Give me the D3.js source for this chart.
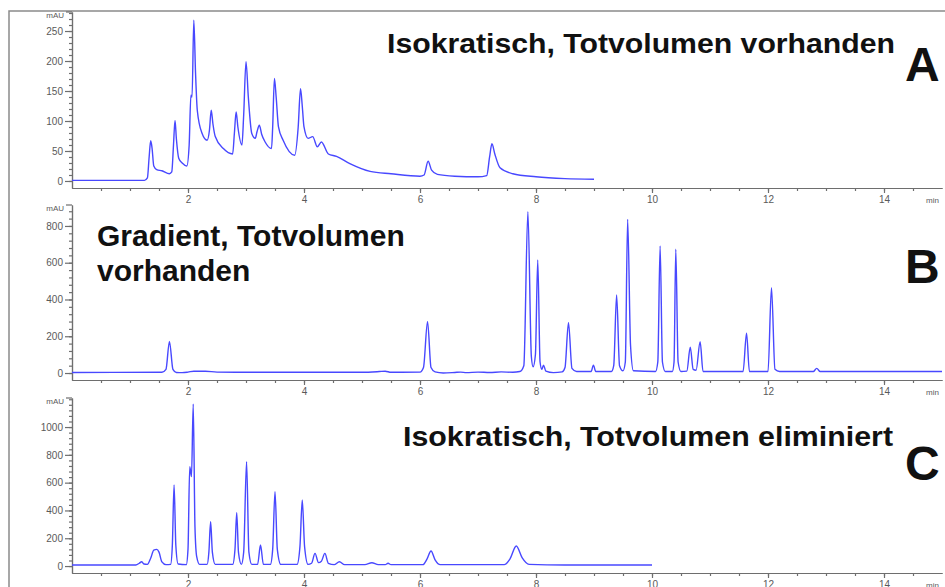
<!DOCTYPE html>
<meta charset="utf-8">
<style>
body { margin: 0; background: #fff; }
svg { display: block; font-family: "Liberation Sans", Arial, sans-serif; }
.axis path, .axis line { stroke: #6e6e6e; stroke-width: 1.2; }
.axis text { fill: #5a5a5a; font-size: 10px; }
.trace { fill: none; stroke: #4848ff; stroke-width: 1.4; stroke-linejoin: round; }
.title { font-weight: bold; fill: #111; }
</style>
<svg width="945" height="587"></svg>
<script src="https://d3js.org/d3.v7.min.js"></script>
<script>
// three chromatograms, time in min, signal in mAU
var traceA = [[0,1],[1.25,1],[1.30,5],[1.33,40],[1.357,67],[1.38,55],[1.41,25],[1.46,19],[1.55,17],[1.68,12],
  [1.72,15],[1.75,60],[1.776,101],[1.80,70],[1.84,38],[1.90,30],[1.98,25],[2.02,60],[2.05,143],[2.07,140],
  [2.10,268],[2.13,180],[2.16,118],[2.24,80],[2.33,68],[2.37,85],[2.40,118],[2.43,95],[2.47,74],[2.61,54],
  [2.77,45],[2.80,80],[2.83,115],[2.86,90],[2.93,60],[2.96,110],[3.00,199],[3.04,140],[3.10,79],[3.16,71],
  [3.19,82],[3.23,93],[3.27,78],[3.33,65],[3.44,54],[3.46,90],[3.49,171],[3.52,140],[3.56,90],[3.64,68],
  [3.84,43],[3.90,90],[3.94,154],[3.97,125],[4.00,90],[4.07,71],[4.15,74],[4.23,57],[4.30,65],[4.42,45],
  [4.56,41],[4.79,29],[5.14,16],[5.5,12],[6.0,8],[6.07,10],[6.14,33],[6.2,18],[6.3,11],[6.6,8],[7.0,7],
  [7.15,9],[7.2,40],[7.24,62],[7.29,45],[7.38,22],[7.6,12],[8.0,7],[8.5,4],[9.0,3]];

var traceB = [[0,3],[1.55,4],[1.62,20],[1.68,172],[1.74,20],[1.80,3],[1.9,2],[2.0,5],[2.1,10],[2.3,10],
  [2.5,5],[3.0,4],[4.0,4],[5.0,4],[5.3,8],[5.4,10],[5.5,4],[6.0,5],[6.06,30],[6.13,279],[6.19,30],[6.26,6],
  [6.4,0],[6.6,3],[6.7,5],[6.8,2],[7.0,5],[7.2,3],[7.4,6],[7.6,4],[7.72,8],[7.79,40],[7.86,878],[7.92,90],
  [7.95,34],[7.99,100],[8.03,615],[8.07,60],[8.10,20],[8.13,43],[8.17,10],[8.3,2],[8.45,6],[8.50,30],
  [8.56,274],[8.62,25],[8.70,8],[8.95,8],[8.99,43],[9.03,8],[9.30,8],[9.34,40],[9.39,424],[9.44,40],
  [9.50,12],[9.54,60],[9.58,836],[9.63,150],[9.68,12],[10.06,8],[10.10,60],[10.14,691],[10.18,60],
  [10.23,8],[10.35,8],[10.38,60],[10.41,673],[10.45,60],[10.50,8],[10.60,10],[10.66,140],[10.71,20],
  [10.76,15],[10.83,170],[10.88,8],[11.57,8],[11.63,216],[11.68,8],[12.00,8],[12.06,464],[12.12,20],
  [12.2,8],[12.78,8],[12.84,25],[12.9,8],[15,8]];

var traceC = [[0,8],[1.10,8],[1.16,20],[1.20,31],[1.24,15],[1.30,12],[1.36,60],[1.41,115],[1.46,120],
  [1.50,100],[1.55,30],[1.62,10],[1.70,12],[1.73,150],[1.76,583],[1.79,150],[1.83,15],[1.97,10],[2.00,120],
  [2.03,714],[2.06,643],[2.09,1165],[2.12,283],[2.15,67],[2.20,12],[2.33,12],[2.36,100],[2.39,319],
  [2.42,100],[2.47,12],[2.77,12],[2.81,120],[2.84,383],[2.87,100],[2.92,12],[2.96,100],[3.01,750],
  [3.05,100],[3.10,12],[3.20,12],[3.25,151],[3.30,12],[3.42,12],[3.46,120],[3.50,535],[3.54,120],
  [3.60,12],[3.88,12],[3.93,140],[3.97,475],[4.01,140],[4.07,12],[4.13,20],[4.19,91],[4.25,25],[4.30,35],
  [4.36,91],[4.42,20],[4.52,10],[4.61,31],[4.70,10],[5.05,10],[5.17,24],[5.28,10],[5.40,10],[5.45,20],
  [5.50,10],[6.05,10],[6.12,50],[6.19,108],[6.26,45],[6.35,10],[7.45,10],[7.55,50],[7.66,144],[7.76,60],
  [7.88,12],[8.5,8],[10.0,8]];

var xTicks = [2, 4, 6, 8, 10, 12, 14];
var yTicksA = [0, 50, 100, 150, 200, 250];
var yTicksB = [0, 200, 400, 600, 800];
var yTicksC = [0, 200, 400, 600, 800, 1000];
var titles = ["Isokratisch, Totvolumen vorhanden", "Gradient, Totvolumen|vorhanden", "Isokratisch, Totvolumen eliminiert"];
var letters = ["A", "B", "C"];

var svg = d3.select("svg");

// frame
svg.append("path")
    .attr("d", "M9,587V11H945")
    .attr("fill", "none")
    .attr("stroke", "#8a8a8a")
    .attr("stroke-width", 1.5);

var x = d3.scaleLinear().domain([0, 15]).range([72, 942]);

var panels = [
  {data: traceA, ticks: yTicksA, minor: 10, top: 12,  bottom: 188, domain: [-11.7, 281.7]},
  {data: traceB, ticks: yTicksB, minor: 40, top: 205, bottom: 380, domain: [-38, 914]},
  {data: traceC, ticks: yTicksC, minor: 40, top: 398, bottom: 573, domain: [-50, 1209]}
];

panels.forEach(function(p, i) {
    var y = d3.scaleLinear().domain(p.domain).range([p.bottom, p.top]);
    var g = svg.append("g");

    var minorY = d3.range(0, p.domain[1], p.minor);
    g.append("g").attr("class", "axis")
        .attr("transform", "translate(72,0)")
        .call(d3.axisLeft(y).tickValues(minorY).tickSize(3).tickSizeOuter(0).tickFormat(""));
    g.append("g").attr("class", "axis")
        .attr("transform", "translate(72,0)")
        .call(d3.axisLeft(y).tickValues(p.ticks).tickSize(7).tickPadding(2).tickSizeOuter(0)
            .tickFormat(d3.format("d")));
    g.append("line")
        .attr("x1", 66).attr("x2", 72).attr("y1", p.top).attr("y2", p.top)
        .attr("stroke", "#6e6e6e").attr("stroke-width", 1.2);
    g.append("text")
        .attr("x", 64).attr("y", p.top + 6)
        .attr("text-anchor", "end")
        .attr("font-size", 8).attr("fill", "#5a5a5a")
        .text("mAU");

    var minorX = d3.range(0.5, 15, 0.5);
    g.append("g").attr("class", "axis")
        .attr("transform", "translate(0," + p.bottom + ")")
        .call(d3.axisBottom(x).tickValues(minorX).tickSize(3).tickSizeOuter(0).tickFormat(""));
    g.append("g").attr("class", "axis")
        .attr("transform", "translate(0," + p.bottom + ")")
        .call(d3.axisBottom(x).tickValues(xTicks).tickSize(5).tickPadding(3).tickSizeOuter(0));
    g.append("text")
        .attr("x", 926).attr("y", p.bottom + 15)
        .attr("font-size", 8).attr("fill", "#5a5a5a")
        .text("min");

    var line = d3.line()
        .x(function(d) { return x(d[0]); })
        .y(function(d) { return y(d[1]); })
        .curve(d3.curveMonotoneX);
    g.append("path").datum(p.data).attr("class", "trace").attr("d", line);

    g.append("text").attr("class", "title")
        .attr("x", 905).attr("y", [81, 283, 480][i])
        .attr("font-size", 48)
        .text(letters[i]);
});

// panel captions
svg.append("text").attr("class", "title")
    .attr("x", 387).attr("y", 53).attr("font-size", 28)
    .attr("textLength", 508).attr("lengthAdjust", "spacingAndGlyphs")
    .text(titles[0]);
var tb = titles[1].split("|");
svg.append("text").attr("class", "title")
    .attr("x", 97).attr("y", 246).attr("font-size", 30).text(tb[0]);
svg.append("text").attr("class", "title")
    .attr("x", 97).attr("y", 281).attr("font-size", 30).text(tb[1]);
svg.append("text").attr("class", "title")
    .attr("x", 403).attr("y", 446).attr("font-size", 28)
    .attr("textLength", 490).attr("lengthAdjust", "spacingAndGlyphs")
    .text(titles[2]);
</script>
